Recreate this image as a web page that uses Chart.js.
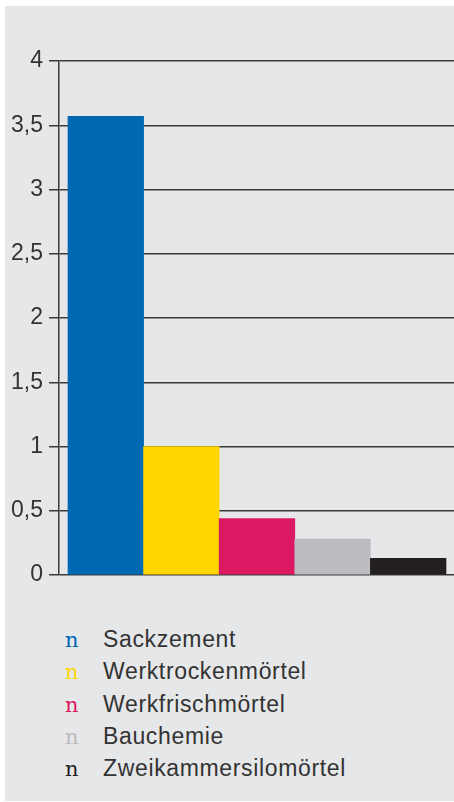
<!DOCTYPE html>
<html>
<head>
<meta charset="utf-8">
<script src="https://cdn.jsdelivr.net/npm/chart.js@4"></script>
<style>
    html, body { margin: 0; padding: 0; background: #ffffff; }
    body { width: 454px; height: 802px; position: relative; overflow: hidden; }
    #panel { position: absolute; left: 5px; top: 6px; width: 449px; height: 795px; background: #e6e7e9; }
    #wrap { position: absolute; left: 0; top: 0; width: 454px; height: 600px; }
    #legend { position: absolute; left: 65px; top: 623px; margin: 0; padding: 0; list-style: none;
        font-family: "Liberation Sans", Arial, sans-serif; font-size: 23px; line-height: 32.3px;
        letter-spacing: 0.65px; color: #333333; }
    #legend li { white-space: nowrap; height: 32.3px; }
    #legend .mark { display: inline-block; width: 38px; letter-spacing: 0; line-height: 32.3px;
        font-family: "DejaVu Serif", "Liberation Serif", serif; font-size: 21px; }
</style>
</head>
<body>
<div id="panel"></div>
<div id="wrap"><canvas id="chart"></canvas></div>
<ul id="legend"></ul>
<script>
// Werte
var categories = ['Sackzement', 'Werktrockenmörtel', 'Werkfrischmörtel', 'Bauchemie', 'Zweikammersilomörtel'];
var values = [3.57, 1.0, 0.44, 0.28, 0.13];
var colors = ['#0069b4', '#ffd600', '#dc1863', '#bbbcbf', '#231f20'];
var yTicks = [0, 0.5, 1, 1.5, 2, 2.5, 3, 3.5, 4];

var lineColor = '#3a3a3a';

var chart = new Chart(document.getElementById('chart').getContext('2d'), {
    type: 'bar',
    data: {
        labels: categories,
        datasets: [{
            data: values.map(function (v, i) { return { x: i, y: v }; }),
            backgroundColor: colors,
            borderWidth: 0,
            barPercentage: 1,
            categoryPercentage: 1
        }]
    },
    options: {
        responsive: true,
        maintainAspectRatio: false,
        animation: false,
        layout: { padding: { left: 0, right: 0, top: 61, bottom: 25 } },
        plugins: {
            legend: { display: false },
            tooltip: { enabled: false }
        },
        scales: {
            x: {
                type: 'linear',
                display: false,
                offset: false,
                min: -0.619,
                max: 4.606,
                // one tick per category so the bars fill their full slot
                afterBuildTicks: function (scale) {
                    scale.ticks = categories.map(function (c, i) { return { value: i }; });
                }
            },
            y: {
                min: 0,
                max: 4,
                afterFit: function (scale) { scale.width = 59; },
                afterBuildTicks: function (scale) {
                    scale.ticks = yTicks.map(function (v) { return { value: v }; });
                },
                ticks: {
                    padding: 6,
                    color: '#333333',
                    font: { family: '"Liberation Sans", Arial, sans-serif', size: 23 },
                    callback: function (value) { return String(value).replace('.', ','); }
                },
                grid: {
                    color: lineColor,
                    lineWidth: 1.5,
                    tickLength: 10,
                    drawTicks: true
                },
                border: { display: true, color: lineColor, width: 1.5 }
            }
        }
    }
});

var legend = document.getElementById('legend');
categories.forEach(function (name, i) {
    var li = document.createElement('li');
    var mark = document.createElement('span');
    mark.className = 'mark';
    mark.style.color = colors[i];
    mark.textContent = 'n';
    li.appendChild(mark);
    li.appendChild(document.createTextNode(name));
    legend.appendChild(li);
});
</script>
</body>
</html>
